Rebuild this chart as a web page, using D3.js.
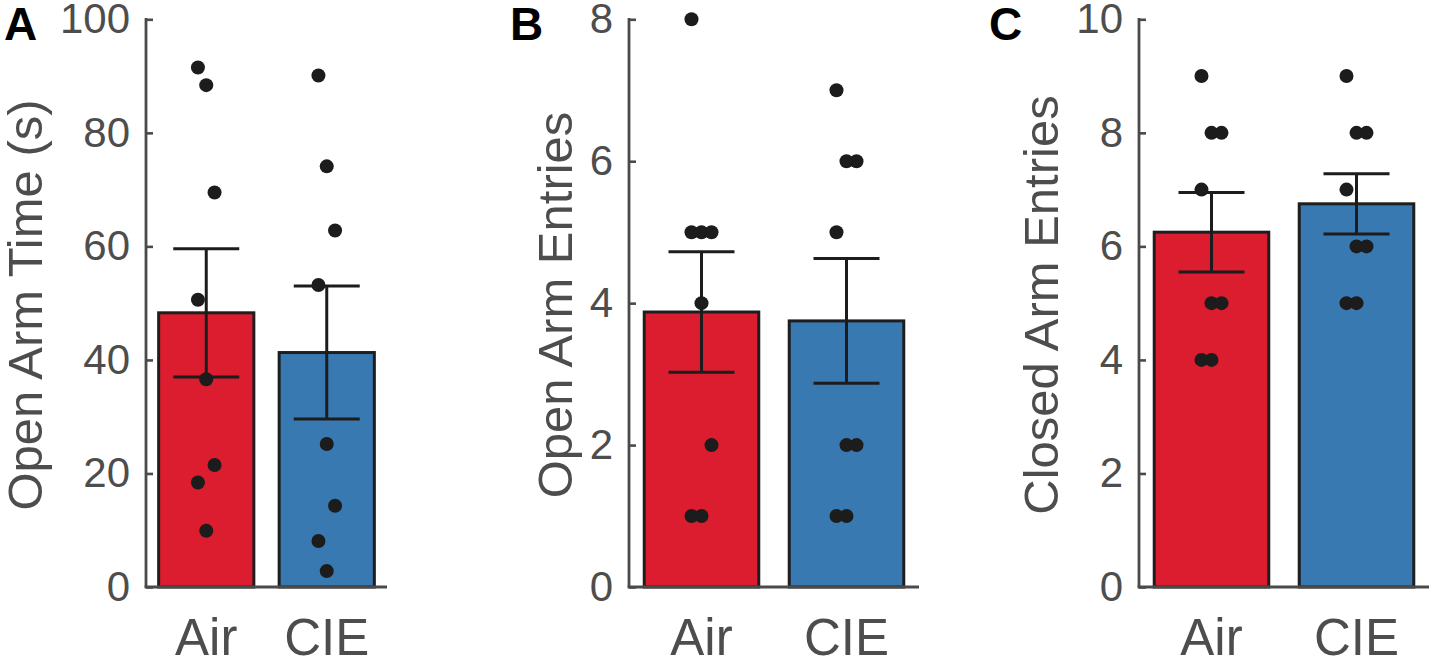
<!DOCTYPE html>
<html>
<head>
<meta charset="utf-8">
<script src="https://cdn.jsdelivr.net/npm/d3@7"></script>
<style>
  body { margin: 0; background: #fff; }
  svg { display: block; font-family: "Liberation Sans", Arial, sans-serif; }
</style>
</head>
<body>
<div id="chart"></div>
<script>
// groups and panel text
const groups = ["Air", "CIE"];
const panelLetters = ["A", "B", "C"];
const yLabels = ["Open Arm Time (s)", "Open Arm Entries", "Closed Arm Entries"];
const yTicksA = [0, 20, 40, 60, 80, 100];
const yTicksB = [0, 2, 4, 6, 8];
const yTicksC = [0, 2, 4, 6, 8, 10];

// individual animals
const airOpenTime = [91.5, 88.4, 69.5, 50.6, 36.6, 21.5, 18.4, 9.9];
const cieOpenTime = [90.1, 74.1, 62.8, 53.2, 25.2, 14.3, 8.1, 2.8];
const airOpenEntries = [8, 5, 5, 5, 4, 2, 1, 1];
const cieOpenEntries = [7, 6, 6, 5, 2, 2, 1, 1];
const airClosedEntries = [9, 8, 8, 7, 5, 5, 4, 4];
const cieClosedEntries = [9, 8, 8, 7, 6, 6, 5, 5];

// bar heights and SEM (Air, CIE)
const meanOpenTime = [48.3, 41.3];
const semOpenTime = [11.3, 11.7];
const meanOpenEntries = [3.875, 3.75];
const semOpenEntries = [0.85, 0.88];
const meanClosedEntries = [6.25, 6.75];
const semClosedEntries = [0.70, 0.53];

const barColors = ["#db1d2f", "#3879b1"];

const panels = [
  { letter: panelLetters[0], label: yLabels[0], ticks: yTicksA, yMax: 100,
    points: [airOpenTime, cieOpenTime], means: meanOpenTime, sems: semOpenTime,
    x0: 146, x1: 387, letterX: 4 },
  { letter: panelLetters[1], label: yLabels[1], ticks: yTicksB, yMax: 8,
    points: [airOpenEntries, cieOpenEntries], means: meanOpenEntries, sems: semOpenEntries,
    x0: 629, x1: 919, letterX: 510 },
  { letter: panelLetters[2], label: yLabels[2], ticks: yTicksC, yMax: 10,
    points: [airClosedEntries, cieClosedEntries], means: meanClosedEntries, sems: semClosedEntries,
    x0: 1139, x1: 1429, letterX: 989 }
];

const width = 1434, height = 662;
const yTop = 19.3, yBottom = 587;
const textGrey = "#4d4d4d", axisGrey = "#4a4a4a", ink = "#1c1c1c";

const svg = d3.select("#chart").append("svg")
  .attr("width", width)
  .attr("height", height);

panels.forEach(p => {
  const g = svg.append("g");

  const x = d3.scaleLinear().domain([0.5, 2.5]).range([p.x0, p.x1]);
  const y = d3.scaleLinear().domain([0, p.yMax]).range([yBottom, yTop]);
  const barW = x(1.79) - x(1);
  const jitter = x(1.069) - x(1);

  // bars
  g.selectAll("rect.bar")
    .data(groups)
    .enter()
    .append("rect")
    .attr("class", "bar")
    .attr("x", (d, i) => x(i + 1) - barW / 2)
    .attr("width", barW)
    .attr("y", (d, i) => y(p.means[i]))
    .attr("height", (d, i) => y(0) - y(p.means[i]))
    .attr("fill", (d, i) => barColors[i])
    .attr("stroke", "#1e1e1e")
    .attr("stroke-width", 3);

  // error bars
  groups.forEach((grp, i) => {
    const cx = x(i + 1);
    const lo = y(p.means[i] - p.sems[i]);
    const hi = y(p.means[i] + p.sems[i]);
    g.append("line")
      .attr("x1", cx).attr("x2", cx)
      .attr("y1", lo).attr("y2", hi)
      .attr("stroke", ink).attr("stroke-width", 3);
    [lo, hi].forEach(yy => {
      g.append("line")
        .attr("x1", cx - 33).attr("x2", cx + 33)
        .attr("y1", yy).attr("y2", yy)
        .attr("stroke", ink).attr("stroke-width", 3);
    });
  });

  // dots, sorted high to low and spread over three columns
  groups.forEach((grp, i) => {
    const vals = p.points[i].slice().sort((a, b) => b - a);
    g.selectAll("circle.dot" + i)
      .data(vals)
      .enter()
      .append("circle")
      .attr("class", "dot" + i)
      .attr("cx", (d, k) => x(i + 1) + ((k % 3) - 1) * jitter)
      .attr("cy", d => y(d))
      .attr("r", 7)
      .attr("fill", ink);
  });

  // y axis, ticks pointing inward
  const yAxis = g.append("g")
    .attr("transform", `translate(${p.x0},0)`)
    .call(d3.axisLeft(y).tickValues(p.ticks).tickSizeInner(-7).tickSizeOuter(-7).tickPadding(16));
  yAxis.select(".domain").remove();
  yAxis.selectAll(".tick line")
    .attr("stroke", axisGrey).attr("stroke-width", 2.6);
  yAxis.selectAll(".tick text")
    .attr("fill", textGrey)
    .style("font-size", "42px")
    .style("font-family", "'Liberation Sans', Arial, sans-serif");
  yAxis.append("line")
    .attr("x1", 0).attr("x2", 0)
    .attr("y1", yTop - 1.3).attr("y2", yBottom)
    .attr("stroke", axisGrey).attr("stroke-width", 2.8);

  // x axis line
  g.append("line")
    .attr("x1", p.x0 - 1.4).attr("x2", p.x1)
    .attr("y1", yBottom).attr("y2", yBottom)
    .attr("stroke", axisGrey).attr("stroke-width", 2.8);

  // x tick labels
  g.selectAll("text.xlab")
    .data(groups)
    .enter()
    .append("text")
    .attr("class", "xlab")
    .attr("x", (d, i) => x(i + 1))
    .attr("y", 655)
    .attr("text-anchor", "middle")
    .attr("fill", textGrey)
    .style("font-size", "51px")
    .text(d => d);

  // y label placed clear of the widest tick label
  const maxTickW = d3.max(yAxis.selectAll(".tick text").nodes(), n => n.getBBox().width);
  const labelX = p.x0 - 16 - maxTickW - 18;
  g.append("text")
    .attr("transform", `translate(${labelX},305) rotate(-90)`)
    .attr("text-anchor", "middle")
    .attr("fill", textGrey)
    .style("font-size", "49px")
    .text(p.label);

  // panel letter
  g.append("text")
    .attr("x", p.letterX)
    .attr("y", 40)
    .attr("fill", "#000")
    .style("font-size", "46px")
    .style("font-weight", "bold")
    .text(p.letter);
});
</script>
</body>
</html>
